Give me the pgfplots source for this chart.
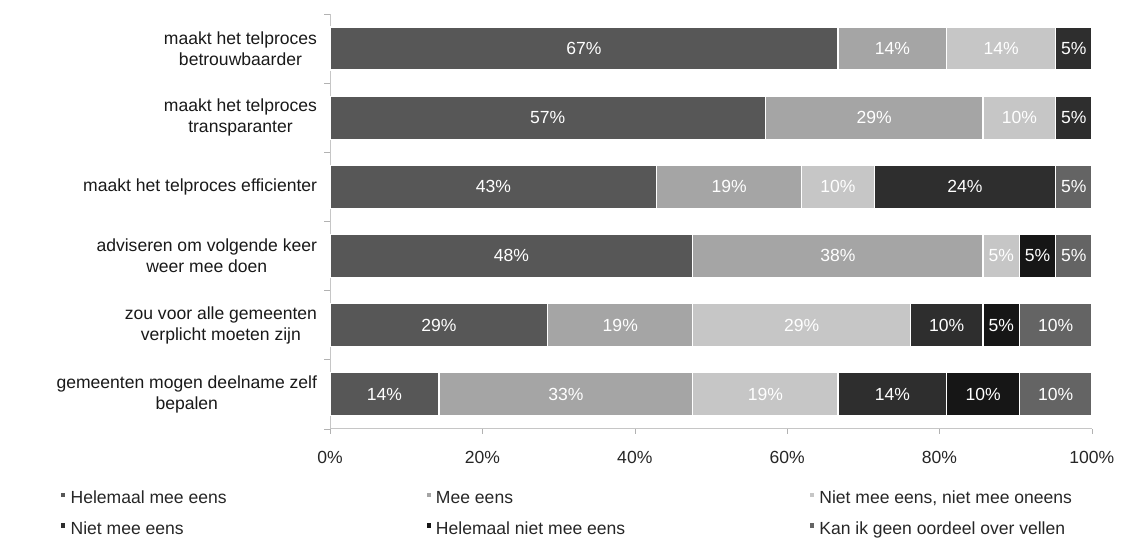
\documentclass[border=0pt]{standalone}
\usepackage{pgfplots}
\pgfplotsset{compat=1.18}
\usepackage{fontspec}
\setmainfont{Liberation Sans}

\definecolor{cHME}{HTML}{575757}
\definecolor{cME}{HTML}{A5A5A5}
\definecolor{cNeu}{HTML}{C6C6C6}
\definecolor{cNME}{HTML}{2E2E2E}
\definecolor{cHNME}{HTML}{161616}
\definecolor{cKan}{HTML}{646464}

\newcommand{\lbl}{\fontsize{8.8}{10.5}\selectfont}

\begin{document}
\begin{tikzpicture}
\begin{axis}[
    at={(0,0)}, anchor=south west,
    scale only axis, width=382pt, height=208pt,
    xbar stacked, bar width=21.5pt,
    xmin=0, xmax=100.01, ymin=-0.5, ymax=5.5,
    axis x line*=bottom, axis y line*=left,
    axis line style={draw=gray!45},
    tick align=outside,
    major tick length=2.5pt, minor tick length=3pt,
    xtick={0,20,40,60,80,100},
    xticklabels={0\%,20\%,40\%,60\%,80\%,100\%},
    xticklabel style={font=\lbl, text=black!85, yshift=-5pt},
    major x tick style={draw=gray!60},
    ytick={0,1,2,3,4,5},
    yticklabels={{gemeenten mogen deelname zelf\\bepalen},
                 {zou voor alle gemeenten\\verplicht moeten zijn},
                 {adviseren om volgende keer\\weer mee doen},
                 {maakt het telproces efficienter},
                 {maakt het telproces\\transparanter},
                 {maakt het telproces\\betrouwbaarder}},
    yticklabel style={align=center, font=\lbl, text=black!90, xshift=-0.5pt},
    major y tick style={draw=none},
    minor ytick={-0.5,0.5,1.5,2.5,3.5,4.5,5.5},
    minor y tick style={draw=gray!60},
    point meta=explicit symbolic,
    nodes near coords,
    every node near coord/.append style={anchor=center, text=white, font=\lbl},
    legend columns=3,
    legend cell align=left,
    legend style={at={(-0.3547,-0.134)}, anchor=north west, draw=none, fill=none,
        font=\lbl, text=black!85, inner sep=0pt, row sep=2.5pt},
    legend image code/.code={\fill[#1] (0.6pt,0pt) rectangle (3.2pt,2.8pt);},
]
\addplot[fill=cHME, draw=white, line width=0.6pt] coordinates {
    (66.667,5) [67\%] (57.143,4) [57\%] (42.857,3) [43\%]
    (47.619,2) [48\%] (28.571,1) [29\%] (14.286,0) [14\%]};
\addplot[fill=cME, draw=white, line width=0.6pt] coordinates {
    (14.286,5) [14\%] (28.571,4) [29\%] (19.048,3) [19\%]
    (38.095,2) [38\%] (19.048,1) [19\%] (33.333,0) [33\%]};
\addplot[fill=cNeu, draw=white, line width=0.6pt] coordinates {
    (14.286,5) [14\%] (9.524,4) [10\%] (9.524,3) [10\%]
    (4.762,2) [5\%] (28.571,1) [29\%] (19.048,0) [19\%]};
\addplot[fill=cNME, draw=white, line width=0.6pt] coordinates {
    (4.762,5) [5\%] (4.762,4) [5\%] (23.810,3) [24\%]
    (0,2) [0\%] (9.524,1) [10\%] (14.286,0) [14\%]};
\addplot[fill=cHNME, draw=white, line width=0.6pt] coordinates {
    (0,5) [0\%] (0,4) [0\%] (0,3) [{}]
    (4.762,2) [5\%] (4.762,1) [5\%] (9.524,0) [10\%]};
\addplot[fill=cKan, draw=white, line width=0.6pt] coordinates {
    (0,5) [{}] (0,4) [{}] (4.762,3) [5\%]
    (4.762,2) [5\%] (9.524,1) [10\%] (9.524,0) [10\%]};
\legend{\makebox[176pt][l]{\strut Helemaal mee eens},
        \makebox[185pt][l]{\strut Mee eens},
        {\strut Niet mee eens, niet mee oneens},
        \makebox[176pt][l]{\strut Niet mee eens},
        \makebox[185pt][l]{\strut Helemaal niet mee eens},
        {\strut Kan ik geen oordeel over vellen}}
\end{axis}
\path (-165.5pt,-65pt) (395pt,215pt);
\end{tikzpicture}
\end{document}
